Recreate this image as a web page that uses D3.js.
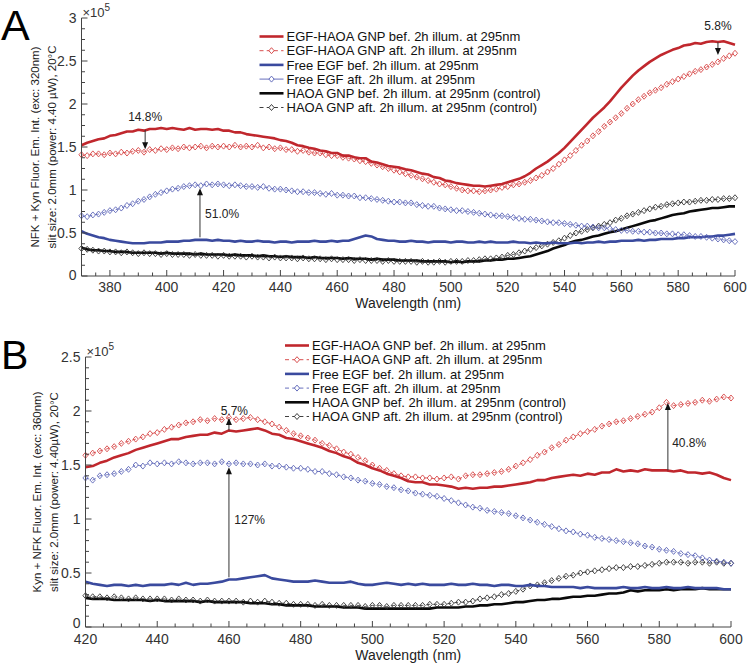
<!DOCTYPE html>
<html><head><meta charset="utf-8">
<script src="https://cdn.jsdelivr.net/npm/d3@7"></script>
<style>
html,body{margin:0;padding:0;background:#fff;}
svg{display:block;}
</style></head>
<body>
<svg id="chart" width="750" height="665"></svg>
<script>
// ---------- DATA (intensity in units of 1e5) ----------
const seriesNames = [
  "EGF-HAOA GNP bef. 2h illum. at 295nm",
  "EGF-HAOA GNP aft. 2h illum. at 295nm",
  "Free EGF bef. 2h illum. at 295nm",
  "Free EGF aft. 2h illum. at 295nm",
  "HAOA GNP bef. 2h illum. at 295nm (control)",
  "HAOA GNP aft. 2h illum. at 295nm (control)"
];
// Panel A: wavelength 370..600 nm, every 2 nm
const wavelengthA = d3.range(370, 601, 2);
const aRedBef = [1.52,1.55,1.57,1.59,1.60,1.63,1.64,1.66,1.68,1.68,1.70,1.69,1.71,1.71,1.72,1.71,1.72,1.71,1.70,1.72,1.70,1.71,1.71,1.70,1.71,1.69,1.69,1.67,1.67,1.65,1.64,1.63,1.62,1.61,1.60,1.58,1.57,1.55,1.52,1.51,1.49,1.48,1.46,1.45,1.43,1.43,1.40,1.40,1.38,1.37,1.37,1.33,1.32,1.30,1.28,1.27,1.26,1.24,1.23,1.21,1.19,1.18,1.15,1.14,1.11,1.10,1.08,1.07,1.06,1.05,1.05,1.04,1.05,1.06,1.07,1.09,1.11,1.13,1.16,1.20,1.25,1.29,1.33,1.38,1.43,1.49,1.56,1.63,1.70,1.77,1.84,1.90,1.96,2.03,2.11,2.19,2.26,2.33,2.39,2.44,2.49,2.53,2.57,2.60,2.63,2.65,2.68,2.69,2.71,2.70,2.72,2.73,2.72,2.73,2.71,2.69];
const aRedAft = [1.41,1.40,1.42,1.42,1.41,1.43,1.42,1.44,1.43,1.45,1.46,1.44,1.47,1.46,1.48,1.47,1.49,1.48,1.50,1.49,1.50,1.51,1.49,1.51,1.50,1.51,1.50,1.52,1.50,1.51,1.50,1.52,1.49,1.50,1.48,1.49,1.47,1.47,1.45,1.46,1.44,1.43,1.43,1.41,1.40,1.40,1.38,1.37,1.36,1.34,1.33,1.31,1.29,1.27,1.25,1.23,1.21,1.19,1.17,1.15,1.13,1.11,1.09,1.07,1.06,1.04,1.02,1.00,0.99,0.99,0.98,0.99,1.00,1.01,1.03,1.04,1.06,1.07,1.09,1.11,1.14,1.17,1.21,1.25,1.30,1.35,1.40,1.46,1.52,1.57,1.63,1.68,1.74,1.79,1.84,1.89,1.95,2.00,2.05,2.09,2.13,2.16,2.19,2.23,2.26,2.29,2.32,2.35,2.38,2.40,2.43,2.46,2.49,2.53,2.56,2.59];
const aBlueBef = [0.52,0.49,0.47,0.45,0.44,0.42,0.41,0.40,0.39,0.38,0.38,0.38,0.39,0.39,0.39,0.40,0.40,0.40,0.41,0.41,0.42,0.42,0.42,0.41,0.42,0.41,0.41,0.40,0.41,0.40,0.40,0.41,0.40,0.40,0.39,0.40,0.40,0.39,0.40,0.40,0.40,0.41,0.40,0.40,0.41,0.40,0.41,0.41,0.43,0.45,0.47,0.46,0.43,0.42,0.41,0.41,0.40,0.40,0.41,0.40,0.40,0.39,0.40,0.40,0.40,0.39,0.40,0.40,0.39,0.39,0.40,0.39,0.40,0.39,0.39,0.39,0.40,0.39,0.39,0.38,0.39,0.38,0.38,0.39,0.38,0.38,0.38,0.39,0.38,0.39,0.39,0.40,0.39,0.40,0.40,0.41,0.41,0.41,0.42,0.41,0.42,0.42,0.43,0.43,0.43,0.44,0.44,0.45,0.45,0.45,0.46,0.46,0.47,0.47,0.48,0.49];
const aBlueAft = [0.70,0.69,0.71,0.72,0.74,0.76,0.77,0.79,0.82,0.84,0.87,0.89,0.92,0.95,0.97,0.99,1.01,1.02,1.04,1.05,1.06,1.05,1.07,1.06,1.07,1.06,1.05,1.06,1.05,1.04,1.04,1.03,1.04,1.02,1.01,1.01,1.00,0.99,0.98,0.98,0.97,0.97,0.96,0.95,0.96,0.94,0.94,0.93,0.93,0.91,0.91,0.90,0.89,0.88,0.87,0.86,0.86,0.85,0.85,0.83,0.82,0.81,0.81,0.79,0.78,0.77,0.76,0.76,0.75,0.74,0.73,0.72,0.71,0.70,0.70,0.69,0.68,0.67,0.66,0.66,0.65,0.64,0.63,0.62,0.62,0.61,0.60,0.59,0.58,0.58,0.57,0.56,0.56,0.55,0.54,0.53,0.53,0.52,0.52,0.51,0.51,0.50,0.50,0.49,0.49,0.48,0.48,0.47,0.46,0.46,0.45,0.44,0.43,0.42,0.41,0.40];
const aBlackBef = [0.33,0.31,0.30,0.30,0.29,0.29,0.28,0.28,0.28,0.27,0.27,0.27,0.27,0.27,0.26,0.27,0.26,0.26,0.26,0.26,0.25,0.26,0.25,0.25,0.25,0.25,0.24,0.25,0.24,0.24,0.24,0.23,0.24,0.23,0.23,0.22,0.23,0.22,0.22,0.22,0.21,0.22,0.21,0.21,0.21,0.21,0.20,0.21,0.20,0.20,0.20,0.19,0.20,0.19,0.19,0.19,0.18,0.18,0.18,0.18,0.17,0.17,0.17,0.17,0.17,0.16,0.17,0.16,0.17,0.17,0.17,0.18,0.18,0.19,0.19,0.20,0.20,0.21,0.22,0.23,0.25,0.27,0.29,0.32,0.34,0.36,0.39,0.41,0.42,0.44,0.46,0.47,0.49,0.51,0.52,0.54,0.56,0.58,0.60,0.62,0.64,0.65,0.67,0.69,0.71,0.72,0.73,0.75,0.76,0.77,0.78,0.79,0.79,0.80,0.81,0.81];
const aBlackAft = [0.32,0.31,0.30,0.29,0.29,0.28,0.28,0.27,0.28,0.27,0.26,0.27,0.26,0.26,0.25,0.26,0.25,0.25,0.25,0.24,0.25,0.24,0.24,0.24,0.23,0.24,0.23,0.23,0.23,0.22,0.23,0.22,0.22,0.21,0.22,0.21,0.21,0.21,0.20,0.21,0.20,0.20,0.20,0.19,0.20,0.19,0.19,0.19,0.18,0.19,0.18,0.18,0.18,0.17,0.18,0.17,0.17,0.17,0.17,0.16,0.17,0.16,0.16,0.17,0.16,0.17,0.17,0.17,0.18,0.18,0.19,0.20,0.20,0.21,0.22,0.24,0.25,0.27,0.29,0.31,0.33,0.35,0.37,0.39,0.41,0.44,0.47,0.50,0.52,0.54,0.56,0.58,0.60,0.62,0.65,0.67,0.70,0.72,0.74,0.76,0.78,0.80,0.81,0.83,0.84,0.85,0.86,0.86,0.87,0.88,0.88,0.89,0.89,0.90,0.90,0.91];

// Panel B: wavelength 420..600 nm, every 2 nm
const wavelengthB = d3.range(420, 601, 2);
const bRedBef = [1.48,1.49,1.52,1.54,1.57,1.59,1.61,1.64,1.66,1.68,1.70,1.72,1.74,1.74,1.76,1.77,1.78,1.78,1.80,1.79,1.82,1.81,1.82,1.83,1.84,1.82,1.79,1.78,1.75,1.74,1.72,1.70,1.68,1.66,1.63,1.61,1.58,1.56,1.52,1.50,1.47,1.45,1.42,1.40,1.38,1.35,1.34,1.34,1.32,1.32,1.31,1.30,1.28,1.29,1.28,1.29,1.29,1.30,1.30,1.31,1.32,1.33,1.34,1.36,1.36,1.38,1.39,1.40,1.41,1.40,1.42,1.41,1.43,1.43,1.46,1.44,1.45,1.44,1.46,1.45,1.45,1.45,1.44,1.45,1.43,1.43,1.42,1.43,1.41,1.38,1.36];
const bRedAft = [1.59,1.61,1.63,1.65,1.67,1.70,1.72,1.74,1.76,1.79,1.80,1.83,1.85,1.87,1.89,1.90,1.92,1.91,1.93,1.92,1.94,1.92,1.93,1.94,1.92,1.90,1.88,1.85,1.82,1.79,1.77,1.75,1.73,1.70,1.68,1.65,1.62,1.60,1.57,1.54,1.50,1.47,1.45,1.42,1.40,1.39,1.39,1.38,1.38,1.37,1.38,1.39,1.37,1.40,1.41,1.41,1.42,1.43,1.44,1.46,1.49,1.52,1.55,1.59,1.62,1.66,1.69,1.73,1.76,1.79,1.81,1.83,1.86,1.88,1.90,1.91,1.93,1.95,1.97,1.99,2.03,2.08,2.05,2.06,2.07,2.08,2.10,2.09,2.11,2.13,2.12];
const bBlueBef = [0.42,0.40,0.39,0.38,0.39,0.39,0.38,0.39,0.38,0.39,0.39,0.39,0.40,0.39,0.41,0.39,0.40,0.40,0.41,0.42,0.44,0.44,0.45,0.46,0.47,0.48,0.45,0.44,0.43,0.42,0.42,0.42,0.43,0.42,0.41,0.41,0.41,0.42,0.40,0.39,0.39,0.40,0.41,0.40,0.39,0.40,0.39,0.40,0.39,0.39,0.39,0.40,0.39,0.39,0.40,0.39,0.39,0.38,0.39,0.39,0.38,0.38,0.39,0.38,0.38,0.37,0.37,0.37,0.37,0.36,0.37,0.36,0.36,0.36,0.36,0.37,0.36,0.36,0.37,0.36,0.36,0.37,0.36,0.36,0.37,0.36,0.36,0.36,0.36,0.35,0.35];
const bBlueAft = [1.38,1.36,1.40,1.41,1.42,1.44,1.46,1.50,1.49,1.52,1.51,1.52,1.51,1.53,1.52,1.51,1.52,1.52,1.51,1.53,1.51,1.52,1.51,1.51,1.50,1.51,1.49,1.49,1.48,1.47,1.47,1.46,1.44,1.44,1.42,1.41,1.39,1.38,1.36,1.35,1.33,1.32,1.30,1.29,1.27,1.26,1.24,1.23,1.22,1.21,1.19,1.17,1.15,1.13,1.11,1.10,1.08,1.07,1.06,1.05,1.03,1.01,0.99,0.97,0.95,0.93,0.91,0.89,0.88,0.86,0.85,0.83,0.82,0.81,0.80,0.79,0.78,0.77,0.75,0.74,0.72,0.71,0.70,0.68,0.67,0.66,0.64,0.62,0.61,0.60,0.59];
const bBlackBef = [0.27,0.26,0.26,0.26,0.25,0.25,0.25,0.25,0.25,0.24,0.25,0.24,0.24,0.24,0.24,0.24,0.23,0.24,0.23,0.23,0.23,0.23,0.23,0.22,0.22,0.22,0.21,0.21,0.20,0.20,0.20,0.20,0.19,0.19,0.19,0.19,0.18,0.18,0.18,0.17,0.17,0.17,0.17,0.17,0.17,0.17,0.17,0.17,0.17,0.18,0.18,0.18,0.18,0.19,0.19,0.20,0.20,0.21,0.21,0.22,0.23,0.23,0.24,0.25,0.25,0.26,0.26,0.27,0.28,0.28,0.29,0.29,0.30,0.31,0.31,0.32,0.34,0.33,0.34,0.34,0.34,0.35,0.34,0.35,0.35,0.35,0.36,0.35,0.35,0.35,0.35];
const bBlackAft = [0.29,0.28,0.28,0.27,0.28,0.27,0.26,0.27,0.26,0.26,0.26,0.26,0.25,0.26,0.25,0.25,0.24,0.25,0.24,0.24,0.24,0.24,0.23,0.24,0.23,0.24,0.23,0.22,0.22,0.21,0.21,0.21,0.20,0.21,0.20,0.20,0.20,0.20,0.20,0.19,0.20,0.20,0.19,0.20,0.20,0.20,0.20,0.20,0.21,0.21,0.21,0.22,0.23,0.23,0.24,0.26,0.27,0.28,0.30,0.31,0.33,0.35,0.38,0.39,0.41,0.43,0.45,0.47,0.48,0.50,0.51,0.52,0.53,0.54,0.55,0.55,0.56,0.56,0.57,0.58,0.59,0.60,0.60,0.60,0.59,0.60,0.60,0.59,0.60,0.59,0.59];

const yTicksA = [0, 0.5, 1, 1.5, 2, 2.5, 3];
const yTicksB = [0, 0.5, 1, 1.5, 2, 2.5];
const xTicksA = [380, 400, 420, 440, 460, 480, 500, 520, 540, 560, 580, 600];
const xTicksB = [420, 440, 460, 480, 500, 520, 540, 560, 580, 600];

// annotations: [wavelength, arrow start value, arrow end value]
const annotA = [[392.4, 1.70, 1.475], [411.7, 0.45, 1.02], [594, 2.72, 2.57]];
const annotB = [[460, 1.82, 1.935], [460, 0.46, 1.48], [582.4, 1.45, 2.075]];
const annotLabelsA = ["14.8%", "51.0%", "5.8%"];
const annotLabelsB = ["5.7%", "127%", "40.8%"];

// ---------- FONT: pick an installed face with Arial-like widths ----------
const FONT = (function () {
  const ctx = document.createElement("canvas").getContext("2d");
  const sample = "EGF-HAOA GNP bef. 2h illum. at 295nm";
  const target = 1806;
  const cands = ["Liberation Sans", "Arial", "Helvetica", "Arimo", "Roboto", "Noto Sans", "Lato", "Open Sans", "Inter", "DejaVu Sans"];
  let best = null;
  cands.forEach(f => {
    ctx.font = `100px "${f}"`;
    const w = ctx.measureText(sample).width;
    const err = Math.abs(w / target - 1);
    if (!best || err < best.err - 0.005) best = {f, err, w};
  });
  const k = Math.max(0.85, Math.min(1.2, target / best.w));
  return {family: `"${best.f}", Arial, sans-serif`, k};
})();
const fs = s => (s * FONT.k).toFixed(2);

// ---------- STYLE ----------
const styles = [
  {color:"#c0272d", width:2.6, marker:false},
  {color:"#d43c3c", width:0.8, marker:true, dash:"4,3"},
  {color:"#3a4a9e", width:2.6, marker:false},
  {color:"#5660b5", width:0.8, marker:true, dash:"4,3"},
  {color:"#0a0a0a", width:2.6, marker:false},
  {color:"#2a2a2a", width:0.8, marker:true, dash:"4,3"}
];
const diamond = {draw(ctx){ ctx.moveTo(0,-3); ctx.lineTo(2.6,0); ctx.lineTo(0,3); ctx.lineTo(-2.6,0); ctx.closePath(); }};
const diamondPath = d3.symbol().type(diamond)();

const svg = d3.select("#chart").style("font-family", FONT.family);

function drawPanel(cfg) {
  const g = svg.append("g");
  const x = d3.scaleLinear().domain(cfg.xDomain).range(cfg.xRange);
  const y = d3.scaleLinear().domain(cfg.yDomain).range(cfg.yRange);

  const data = cfg.series;
  [4,5,2,3,1,0].forEach(i => {
    const st = styles[i];
    const pts = cfg.wl.map((w, k) => [w, data[i][k]]);
    const line = d3.line().x(d => x(d[0])).y(d => y(d[1]));
    g.append("path").attr("d", line(pts)).attr("fill","none")
      .attr("stroke", st.color).attr("stroke-width", st.width)
      .attr("stroke-linejoin","round")
      .attr("stroke-dasharray", st.dash || null);
    if (st.marker) {
      g.append("g").selectAll("path").data(pts).join("path")
        .attr("d", diamondPath)
        .attr("transform", d => `translate(${x(d[0])},${y(d[1])})`)
        .attr("fill","none").attr("stroke", st.color).attr("stroke-width", 0.85);
    }
  });

  // axes
  const axisColor = "#444";
  const x0 = cfg.xRange[0], y0 = cfg.yRange[0];
  g.append("line").attr("x1", x0).attr("x2", cfg.xRange[1]).attr("y1", y0).attr("y2", y0)
    .attr("stroke", axisColor).attr("stroke-width", 1);
  g.append("line").attr("x1", x0).attr("x2", x0).attr("y1", y0).attr("y2", cfg.yRange[1])
    .attr("stroke", axisColor).attr("stroke-width", 1);
  d3.range(cfg.xDomain[0], cfg.xDomain[1] + 0.01, 5).forEach(v => {
    const major = cfg.xTicks.includes(v);
    g.append("line").attr("x1", x(v)).attr("x2", x(v)).attr("y1", y0).attr("y2", y0 - (major ? 6 : 3.5))
      .attr("stroke", axisColor).attr("stroke-width", 1);
  });
  cfg.xTicks.forEach(v => {
    g.append("text").attr("x", x(v)).attr("y", y0 + cfg.xLabOff).attr("text-anchor","middle")
      .attr("font-size", fs(14)).attr("fill","#333").text(v);
  });
  const nMinor = Math.round((cfg.yDomain[1] - cfg.yDomain[0]) / cfg.yMinor);
  for (let k = 0; k <= nMinor; k++) {
    const v = cfg.yDomain[0] + k * cfg.yMinor;
    const major = cfg.yTicks.some(t => Math.abs(t - v) < 1e-6);
    g.append("line").attr("x1", x0).attr("x2", x0 + (major ? 6 : 3.5)).attr("y1", y(v)).attr("y2", y(v))
      .attr("stroke", axisColor).attr("stroke-width", 1);
  }
  cfg.yTicks.forEach(v => {
    g.append("text").attr("x", x0 - 5).attr("y", y(v) + (v === 0 ? cfg.yZeroOff : 5)).attr("text-anchor","end")
      .attr("font-size", fs(14)).attr("fill","#333").text(v);
  });
  const ex = g.append("text").attr("x", x0 + 1).attr("y", cfg.yRange[1] - 1).attr("font-size", fs(13)).attr("fill","#333");
  ex.append("tspan").text("\u00d710");
  ex.append("tspan").attr("dy", -6).attr("font-size", fs(10)).text("5");

  g.append("text").attr("x", (cfg.xRange[0] + cfg.xRange[1]) / 2).attr("y", y0 + cfg.xTitleOff)
    .attr("text-anchor","middle").attr("font-size", fs(14)).attr("fill","#222").text("Wavelength (nm)");
  const yc = (cfg.yRange[0] + cfg.yRange[1]) / 2;
  cfg.yLabel.forEach((t, i) => {
    g.append("text").attr("transform", `translate(${cfg.yLabelX[i]},${yc}) rotate(-90)`)
      .attr("text-anchor","middle").attr("font-size", fs(11.5)).attr("fill","#222").text(t);
  });
  g.append("text").attr("x", 1).attr("y", cfg.letterY).attr("font-size", fs(cfg.letterSize))
    .attr("fill","#000").text(cfg.letter);

  // legend
  seriesNames.forEach((name, i) => {
    const st = styles[i];
    const ly = cfg.legendY + i * 14.2;
    const lx0 = cfg.legendX, lx1 = cfg.legendX + 24;
    const solidLegend = !st.marker || (cfg.solidBlueLegend && i === 3);
    g.append("line").attr("x1", lx0).attr("x2", lx1).attr("y1", ly).attr("y2", ly)
      .attr("stroke", st.color).attr("stroke-width", st.marker ? 0.9 : 2.6)
      .attr("stroke-dasharray", solidLegend ? null : "4,3.2");
    if (st.marker) {
      g.append("path").attr("d", diamondPath).attr("transform", `translate(${(lx0 + lx1) / 2},${ly})`)
        .attr("fill","#fff").attr("stroke", st.color).attr("stroke-width", 0.9);
    }
    g.append("text").attr("x", lx1 + 3).attr("y", ly + 4.6).attr("font-size", fs(13))
      .attr("fill","#111").text(name);
  });

  // annotation arrows
  cfg.annots.forEach(a => {
    const ax = x(a[0]), ys = y(a[1]), ye = y(a[2]);
    const dir = ye < ys ? -1 : 1;
    g.append("line").attr("x1", ax).attr("x2", ax).attr("y1", ys).attr("y2", ye - dir * 6)
      .attr("stroke", "#333").attr("stroke-width", 1);
    g.append("path").attr("d", `M${ax},${ye} L${ax - 3},${ye - dir * 7} L${ax + 3},${ye - dir * 7} Z`)
      .attr("fill", "#111");
  });
  cfg.labelPos.forEach((l, i) => {
    g.append("text").attr("x", x(l[0])).attr("y", y(l[1])).attr("text-anchor", l[2] || "middle")
      .attr("font-size", fs(12)).attr("fill","#222").text(cfg.labels[i]);
  });
}

drawPanel({
  wl: wavelengthA,
  series: [aRedBef, aRedAft, aBlueBef, aBlueAft, aBlackBef, aBlackAft],
  xDomain: [370, 600], xRange: [81.5, 735],
  yDomain: [0, 3], yRange: [276, 18],
  xTicks: xTicksA, yTicks: yTicksA, yMinor: 0.125, xLabOff: 15.5, xTitleOff: 31.5, yZeroOff: 3.5,
  yLabel: ["NFK + Kyn Fluor. Em. Int. (exc: 320nm)", "slit size: 2.0mm (power: 4.40 \u00b5W), 20\u00b0C"],
  yLabelX: [38.5, 55.5],
  letter: "A", letterY: 40, letterSize: 43,
  legendX: 259.5, legendY: 36.5, solidBlueLegend: true,
  annots: annotA, labels: annotLabelsA,
  labelPos: [[392.4, 1.80], [413.5, 0.68, "start"], [594, 2.86]]
});

drawPanel({
  wl: wavelengthB,
  series: [bRedBef, bRedAft, bBlueBef, bBlueAft, bBlackBef, bBlackAft],
  xDomain: [420, 600], xRange: [85.5, 731],
  yDomain: [0, 2.5], yRange: [627, 357],
  xTicks: xTicksB, yTicks: yTicksB, yMinor: 0.1, xLabOff: 16.5, xTitleOff: 32.5, yZeroOff: 0.5,
  yLabel: ["Kyn + NFK Fluor. Em. Int. (exc: 360nm)", "slit size: 2.0mm (power: 4.40\u00b5W), 20\u00b0C"],
  yLabelX: [41, 58],
  letter: "B", letterY: 369, letterSize: 41,
  legendX: 285, legendY: 345.5, solidBlueLegend: false,
  annots: annotB, labels: annotLabelsB,
  labelPos: [[461.5, 1.965], [461.5, 0.955, "start"], [583.6, 1.67, "start"]]
});
</script>
</body></html>
